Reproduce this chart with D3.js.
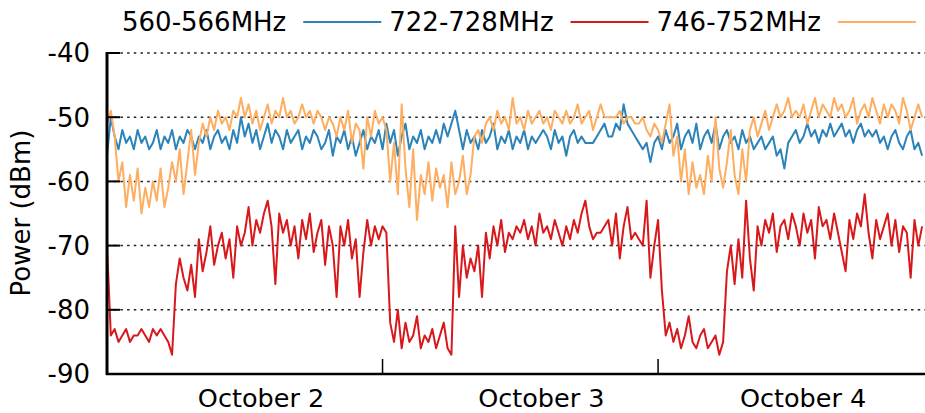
<!DOCTYPE html>
<html>
<head>
<script type="text/javascript" src="https://d3js.org/d3.v7.min.js"></script>
<style>
  body { margin: 0; background: #fff; }
  text { font-family: "DejaVu Sans", sans-serif; fill: #000; }
</style>
</head>
<body>
<div id="viz"></div>
<script type="text/javascript">

// series names and colours
var seriesNames = ["560-566MHz", "722-728MHz", "746-752MHz"];
var seriesColors = ["#2b83ba", "#d7191c", "#fdae61"];

// one reading every 20 minutes, starting October 2 00:00
var startTime = Date.UTC(2016, 9, 2, 0, 0);
var stepMinutes = 20;

// y ticks and x labels
var yTicks = [-90, -80, -70, -60, -50, -40];
var dayTicks = ["2016-10-03T00:00Z", "2016-10-04T00:00Z"];
var dayLabels = ["October 2", "October 3", "October 4"];
var dayLabelTimes = ["2016-10-02T13:25Z", "2016-10-03T13:50Z", "2016-10-04T12:38Z"];

var blue = [
 -56,-50,-53,-55,-52,-54,-53,-55,-52,-54,-53,-55,
 -54,-52,-55,-53,-54,-52,-55,-53,-54,-52,-53,-55,
 -53,-54,-52,-55,-53,-52,-54,-53,-55,-52,-54,-50,
 -53,-51,-54,-52,-55,-53,-51,-54,-52,-53,-55,-52,
 -54,-53,-52,-55,-53,-54,-52,-53,-55,-54,-52,-56,
 -53,-54,-52,-55,-53,-56,-54,-52,-55,-53,-54,-52,
 -55,-51,-54,-52,-56,-53,-51,-55,-53,-54,-52,-55,
 -53,-54,-52,-54,-51,-53,-51,-49,-52,-55,-52,-54,
 -53,-55,-52,-54,-53,-51,-55,-53,-54,-52,-55,-53,
 -54,-52,-55,-53,-54,-53,-52,-53,-55,-52,-54,-53,
 -56,-53,-52,-54,-53,-54,-54,-54,-53,-52,-51,-53,
 -53,-51,-52,-48,-51,-52,-53,-54,-55,-54,-57,-54,
 -53,-55,-52,-54,-53,-51,-55,-53,-52,-54,-51,-55,
 -53,-52,-54,-51,-55,-53,-52,-54,-53,-55,-52,-54,
 -53,-55,-54,-53,-55,-54,-53,-56,-55,-58,-54,-53,
 -52,-54,-53,-51,-53,-52,-54,-52,-53,-51,-53,-52,
 -51,-53,-52,-54,-52,-51,-53,-52,-53,-52,-54,-53,
 -55,-53,-52,-54,-55,-53,-52,-55,-54,-56
];

var red = [
 -70,-84,-83,-85,-84,-83,-85,-84,-84,-83,-84,-85,
 -83,-84,-83,-84,-85,-87,-76,-72,-75,-77,-73,-78,
 -69,-74,-71,-67,-73,-70,-68,-72,-69,-75,-67,-70,
 -68,-64,-70,-66,-68,-65,-63,-67,-76,-65,-68,-66,
 -70,-67,-72,-66,-69,-65,-71,-68,-66,-73,-67,-70,
 -78,-67,-70,-66,-72,-69,-78,-71,-66,-70,-67,-69,
 -67,-68,-82,-85,-80,-86,-82,-85,-84,-81,-86,-84,
 -85,-83,-86,-84,-82,-86,-87,-67,-78,-70,-75,-72,
 -74,-70,-78,-68,-72,-67,-70,-66,-71,-68,-69,-67,
 -68,-66,-69,-67,-70,-65,-68,-67,-69,-66,-68,-70,
 -67,-69,-66,-68,-65,-63,-67,-69,-68,-68,-67,-66,
 -70,-65,-72,-67,-64,-69,-68,-69,-70,-63,-75,-70,
 -66,-77,-84,-82,-85,-83,-86,-84,-81,-85,-86,-84,
 -83,-86,-85,-84,-87,-85,-74,-70,-76,-69,-75,-63,
 -72,-77,-67,-70,-66,-68,-65,-71,-67,-66,-69,-65,
 -67,-70,-65,-68,-66,-72,-64,-67,-66,-69,-65,-68,
 -71,-74,-66,-69,-65,-67,-62,-68,-72,-66,-69,-67,
 -65,-70,-66,-71,-67,-68,-75,-66,-70,-67
];

var orange = [
 -51,-49,-53,-60,-57,-64,-59,-63,-58,-65,-61,-64,
 -60,-63,-58,-64,-61,-57,-60,-55,-62,-57,-52,-59,
 -54,-51,-53,-50,-52,-49,-51,-50,-52,-49,-50,-47,
 -50,-48,-51,-49,-52,-50,-48,-51,-49,-50,-47,-50,
 -49,-51,-50,-48,-50,-49,-51,-49,-50,-52,-50,-51,
 -53,-50,-52,-49,-54,-51,-52,-58,-50,-53,-49,-51,
 -50,-52,-60,-54,-62,-48,-58,-64,-55,-66,-59,-62,
 -57,-63,-58,-61,-59,-64,-57,-62,-60,-56,-62,-59,
 -53,-52,-54,-51,-50,-52,-49,-51,-50,-52,-47,-51,
 -50,-52,-49,-51,-50,-49,-51,-50,-52,-49,-50,-51,
 -49,-51,-50,-48,-51,-50,-49,-52,-50,-48,-50,-50,
 -50,-50,-49,-51,-50,-50,-51,-51,-50,-52,-53,-51,
 -52,-54,-51,-48,-56,-53,-60,-55,-62,-57,-61,-59,
 -62,-56,-60,-50,-58,-61,-57,-52,-59,-62,-55,-60,
 -52,-50,-53,-51,-49,-52,-50,-48,-50,-49,-47,-50,
 -49,-50,-48,-51,-49,-47,-50,-48,-49,-50,-47,-49,
 -48,-50,-49,-47,-51,-49,-48,-50,-47,-49,-51,-48,
 -50,-48,-49,-51,-47,-49,-52,-50,-48,-50
];

var allSeries = [blue, red, orange];

var width = 925, height = 413;
var plotL = 107, plotR = 925, plotT = 53, plotB = 374;

var svg = d3.select("#viz").append("svg")
    .attr("width", width)
    .attr("height", height);

var x = d3.scaleUtc()
    .domain([new Date(startTime), new Date(Date.UTC(2016, 9, 4, 23, 15))])
    .range([plotL, plotR]);

var y = d3.scaleLinear()
    .domain([-90, -40])
    .range([plotB, plotT]);

function timeOf(i) { return new Date(startTime + i * stepMinutes * 60000); }

// dotted grid
svg.selectAll("line.grid")
    .data(yTicks.filter(function(d){ return d > -90; }))
    .enter().append("line")
    .attr("class", "grid")
    .attr("x1", plotL).attr("x2", plotR)
    .attr("y1", function(d){ return y(d); })
    .attr("y2", function(d){ return y(d); })
    .style("stroke", "#222")
    .style("stroke-width", 1.5)
    .style("stroke-dasharray", "2.5,4.2");

// lines
svg.append("clipPath").attr("id", "clip")
    .append("rect").attr("x", plotL).attr("y", plotT - 10)
    .attr("width", plotR - plotL).attr("height", plotB - plotT + 10);

var line = d3.line()
    .x(function(d, i){ return x(timeOf(i)); })
    .y(function(d){ return y(d); });

svg.append("g").attr("clip-path", "url(#clip)")
    .selectAll("path")
    .data(allSeries)
    .enter().append("path")
    .attr("d", line)
    .style("fill", "none")
    .style("stroke", function(d, i){ return seriesColors[i]; })
    .style("stroke-width", 2)
    .style("stroke-linejoin", "round");

// y ticks (inside) and labels
svg.selectAll("line.ytick")
    .data(yTicks)
    .enter().append("line")
    .attr("x1", plotL).attr("x2", plotL + 13)
    .attr("y1", function(d){ return y(d); })
    .attr("y2", function(d){ return y(d); })
    .style("stroke", "#000")
    .style("stroke-width", 2);

svg.selectAll("text.ylab")
    .data(yTicks)
    .enter().append("text")
    .attr("x", 90)
    .attr("y", function(d){ return y(d); })
    .attr("dy", "0.36em")
    .attr("text-anchor", "end")
    .style("font-size", "26px")
    .text(function(d){ return d; });

// day ticks on bottom axis
svg.selectAll("line.xtick")
    .data(dayTicks)
    .enter().append("line")
    .attr("x1", function(d){ return x(new Date(d)); })
    .attr("x2", function(d){ return x(new Date(d)); })
    .attr("y1", plotB).attr("y2", plotB - 15)
    .style("stroke", "#000")
    .style("stroke-width", 1.5);

svg.selectAll("text.xlab")
    .data(dayLabels)
    .enter().append("text")
    .attr("x", function(d, i){ return x(new Date(dayLabelTimes[i])); })
    .attr("y", 407)
    .attr("text-anchor", "middle")
    .style("font-size", "25.5px")
    .text(function(d){ return d; });

// spines
svg.append("line")
    .attr("x1", plotL).attr("x2", plotL)
    .attr("y1", plotT - 1).attr("y2", plotB + 1)
    .style("stroke", "#000").style("stroke-width", 3);
svg.append("line")
    .attr("x1", plotL - 1).attr("x2", plotR)
    .attr("y1", plotB).attr("y2", plotB)
    .style("stroke", "#000").style("stroke-width", 2.5);

// y title
svg.append("text")
    .attr("transform", "translate(30,213) rotate(-90)")
    .attr("text-anchor", "middle")
    .style("font-size", "26px")
    .text("Power (dBm)");

// legend: name then line sample
var lx = 122;
seriesNames.forEach(function(name, i){
    var t = svg.append("text")
        .attr("x", lx).attr("y", 31)
        .style("font-size", "26px")
        .text(name);
    var w = t.node().getComputedTextLength();
    svg.append("line")
        .attr("x1", lx + w + 17).attr("x2", lx + w + 95)
        .attr("y1", 22).attr("y2", 22)
        .style("stroke", seriesColors[i])
        .style("stroke-width", 2);
    lx = lx + w + 103;
});

</script>
</body>
</html>
